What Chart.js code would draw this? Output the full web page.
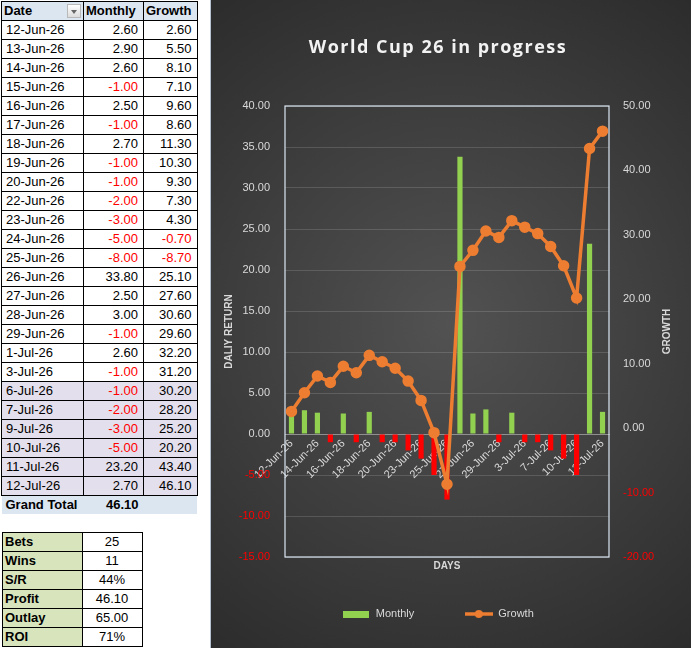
<!DOCTYPE html>
<html>
<head>
<meta charset="utf-8">
<title>World Cup 26 in progress</title>
<script src="https://cdn.jsdelivr.net/npm/chart.js@4.4.1/dist/chart.umd.min.js"></script>
<style>
  body { margin: 0; background: #fff; font-family: 'Liberation Sans', Arial, sans-serif; }
  table { position: absolute; border-collapse: collapse; table-layout: fixed; font-size: 13px; color: #000; }
  td { border: 1px solid #000; height: 18px; padding: 0 5px 0 4px; white-space: nowrap; overflow: hidden; line-height: 18px; }
  #pivot { left: 1px; top: 1px; }
  #pivot tr.head td { background: #dce6f1; font-weight: bold; padding-left: 2px; }
  #pivot tr.shaded td { background: #e4dfec; }
  #pivot tr.total td { background: #dce6f1; font-weight: bold; border: none; }
  td.num { text-align: right; }
  td.neg { color: #ff0000; }
  .drop { position: relative; display: inline-block; float: right; width: 14px; height: 14px; margin-top: 2px; margin-right: -3px;
          background: linear-gradient(#ffffff, #dcdcdc); border: 1px solid #b9b9b9; box-sizing: border-box; }
  .drop:after { content: ''; position: absolute; left: 3px; top: 5px; border-left: 3.5px solid transparent; border-right: 3.5px solid transparent; border-top: 4px solid #666; }
  #stats { left: 2px; top: 532px; }
  #stats td.lab { background: #d8e4bc; font-weight: bold; padding-left: 2px; }
  #stats td.val { text-align: center; }
  #chartBox { position: absolute; left: 211px; top: 0; width: 480px; height: 648px; }
  #chartBox:before { content: ''; position: absolute; left: -1px; top: 0; width: 1px; height: 648px; background: #b7c2d2; }
</style>
</head>
<body>
<table id="pivot">
  <colgroup><col style="width:82px"><col style="width:60px"><col style="width:53px"></colgroup>
  <tbody>
    <tr class="head"><td>Date<span class="drop"></span></td><td>Monthly</td><td>Growth</td></tr>
  </tbody>
</table>
<table id="stats">
  <colgroup><col style="width:80px"><col style="width:60px"></colgroup>
  <tbody></tbody>
</table>
<div id="chartBox"><canvas id="chart"></canvas></div>

<script>
const dates = ['12-Jun-26', '13-Jun-26', '14-Jun-26', '15-Jun-26', '16-Jun-26', '17-Jun-26', '18-Jun-26',
  '19-Jun-26', '20-Jun-26', '22-Jun-26', '23-Jun-26', '24-Jun-26', '25-Jun-26', '26-Jun-26', '27-Jun-26',
  '28-Jun-26', '29-Jun-26', '1-Jul-26', '3-Jul-26', '6-Jul-26', '7-Jul-26', '9-Jul-26', '10-Jul-26',
  '11-Jul-26', '12-Jul-26'];
const monthly = [2.6, 2.9, 2.6, -1, 2.5, -1, 2.7, -1, -1, -2, -3, -5, -8, 33.8, 2.5, 3.0, -1, 2.6, -1, -1,
  -2, -3, -5, 23.2, 2.7];
const growth = [2.6, 5.5, 8.1, 7.1, 9.6, 8.6, 11.3, 10.3, 9.3, 7.3, 4.3, -0.7, -8.7, 25.1, 27.6, 30.6, 29.6,
  32.2, 31.2, 30.2, 28.2, 25.2, 20.2, 43.4, 46.1];
const grandTotal = '46.10';
const statLabels = ['Bets', 'Wins', 'S/R', 'Profit', 'Outlay', 'ROI'];
const statValues = ['25', '11', '44%', '46.10', '65.00', '71%'];
const leftTicks = { min: -15, max: 40, step: 5 };
const rightTicks = { min: -20, max: 50, step: 10 };
const chartTitle = 'World Cup 26 in progress';
const leftTitle = 'DALIY RETURN';
const rightTitle = 'GROWTH';
const xTitle = 'DAYS';
const shadedFrom = 19;

// spreadsheet side
const pivotBody = document.querySelector('#pivot tbody');
const neg = v => (v < 0 ? ' neg' : '');
dates.forEach((d, i) => {
  const tr = document.createElement('tr');
  if (i >= shadedFrom) tr.className = 'shaded';
  tr.innerHTML = `<td>${d}</td><td class="num${neg(monthly[i])}">${monthly[i].toFixed(2)}</td>` +
    `<td class="num${neg(growth[i])}">${growth[i].toFixed(2)}</td>`;
  pivotBody.appendChild(tr);
});
const totalRow = document.createElement('tr');
totalRow.className = 'total';
totalRow.innerHTML = `<td>Grand Total</td><td class="num">${grandTotal}</td><td></td>`;
pivotBody.appendChild(totalRow);

const statsBody = document.querySelector('#stats tbody');
statLabels.forEach((l, i) => {
  const tr = document.createElement('tr');
  tr.innerHTML = `<td class="lab">${l}</td><td class="val">${statValues[i]}</td>`;
  statsBody.appendChild(tr);
});

// chart side
const GREEN = '#92d050';
const RED = '#ff0000';
const ORANGE = '#ed7d31';
const TEXT = '#d9d9d9';
Chart.defaults.font.family = "'Liberation Sans', Arial, sans-serif";

const tickColor = c => (c.tick && c.tick.value < 0 ? RED : TEXT);

function marker(w, h, paint) {
  const c = document.createElement('canvas');
  c.width = w;
  c.height = h;
  paint(c.getContext('2d'));
  return c;
}
const monthlyMark = marker(26, 7, g => { g.fillStyle = GREEN; g.fillRect(0, 0, 26, 7); });
const growthMark = marker(28, 10, g => {
  g.strokeStyle = ORANGE; g.lineWidth = 3.5;
  g.beginPath(); g.moveTo(0, 5); g.lineTo(28, 5); g.stroke();
  g.fillStyle = ORANGE; g.beginPath(); g.arc(14, 5, 4, 0, Math.PI * 2); g.fill();
});

const backdrop = {
  id: 'backdrop',
  beforeDraw(chart) {
    const { ctx, width, height } = chart;
    const g = ctx.createRadialGradient(width * 0.5, height * 0.5, 0, width * 0.5, height * 0.5, height * 0.72);
    g.addColorStop(0, '#525252');
    g.addColorStop(1, '#262626');
    ctx.save();
    ctx.fillStyle = g;
    ctx.fillRect(0, 0, width, height);
    ctx.restore();

    // Excel title has a little letter spacing
    const block = chart.titleBlock;
    if (block && !block._spaced) {
      const draw = block.draw.bind(block);
      block.draw = function() {
        chart.ctx.save();
        chart.ctx.letterSpacing = '1.5px';
        draw();
        chart.ctx.restore();
      };
      block._spaced = true;
    }
  },
  beforeDatasetsDraw(chart) {
    const { ctx, chartArea: a } = chart;
    ctx.save();
    ctx.strokeStyle = '#dde6f2';
    ctx.lineWidth = 1.2;
    ctx.strokeRect(a.left, a.top, a.right - a.left, a.bottom - a.top);
    ctx.restore();
  },
  afterDraw(chart) {
    // right axis title reads bottom-to-top like the left one
    const { ctx, chartArea: a } = chart;
    ctx.save();
    ctx.translate(456, (a.top + a.bottom) / 2);
    ctx.rotate(-Math.PI / 2);
    ctx.font = "bold 10px 'Liberation Sans', Arial, sans-serif";
    ctx.fillStyle = TEXT;
    ctx.textAlign = 'center';
    ctx.textBaseline = 'middle';
    ctx.fillText(rightTitle, 0, 0);
    ctx.restore();
  }
};

new Chart(document.getElementById('chart'), {
  type: 'bar',
  data: {
    labels: dates,
    datasets: [
      {
        label: 'Monthly',
        data: monthly,
        backgroundColor: monthly.map(v => (v < 0 ? RED : GREEN)),
        barPercentage: 0.4,
        categoryPercentage: 1,
        xAxisID: 'x',
        yAxisID: 'y',
        order: 1
      },
      {
        label: 'Growth',
        type: 'line',
        data: growth,
        borderColor: ORANGE,
        backgroundColor: ORANGE,
        borderWidth: 3.5,
        pointRadius: 4,
        pointHoverRadius: 4,
        tension: 0,
        xAxisID: 'x',
        yAxisID: 'y1',
        order: 0
      }
    ]
  },
  options: {
    responsive: true,
    maintainAspectRatio: false,
    animation: false,
    layout: { padding: { top: 0, left: 0, right: 26, bottom: 18.5 } },
    plugins: {
      title: {
        display: true,
        text: chartTitle,
        color: '#f2f2f2',
        font: { family: "'Open Sans', sans-serif", size: 18, weight: 'bold' },
        padding: { top: 37.2, bottom: 47.2 }
      },
      legend: {
        position: 'bottom',
        labels: {
          usePointStyle: true,
          pointStyleWidth: 28,
          padding: 20,
          color: TEXT,
          font: { size: 11 },
          generateLabels: () => [
            { text: 'Monthly          ', pointStyle: monthlyMark, datasetIndex: 0, fontColor: TEXT, lineWidth: 0 },
            { text: 'Growth', pointStyle: growthMark, datasetIndex: 1, fontColor: TEXT, lineWidth: 0 }
          ]
        }
      },
      tooltip: { enabled: false }
    },
    scales: {
      x: {
        position: { y: 0 },
        offset: true,
        grid: { display: false, drawTicks: false },
        border: { display: true, color: '#8f8f8f', width: 1 },
        ticks: {
          autoSkip: false,
          minRotation: 45,
          maxRotation: 45,
          padding: 3,
          color: TEXT,
          font: { size: 11 },
          callback: (v, i) => (i % 2 === 0 ? dates[i] : '')
        }
      },
      x2: {
        type: 'category',
        position: 'bottom',
        grid: { display: false, drawTicks: false },
        border: { display: false },
        ticks: { display: false },
        title: { display: true, text: xTitle, color: TEXT, font: { size: 10, weight: 'bold' }, padding: { top: 0, bottom: 16.5 } },
        afterFit: s => { s.height = 31.5; }
      },
      y: {
        position: 'left',
        min: leftTicks.min,
        max: leftTicks.max,
        grid: { color: 'rgba(255,255,255,0.14)', drawTicks: false },
        border: { display: false },
        ticks: { stepSize: leftTicks.step, padding: 15, color: tickColor, font: { size: 11 }, callback: v => v.toFixed(2) },
        title: { display: true, text: leftTitle, color: TEXT, font: { size: 10, weight: 'bold' }, padding: { top: 12, bottom: 0 } },
        afterFit: s => { s.width = 74; }
      },
      y1: {
        position: 'right',
        min: rightTicks.min,
        max: rightTicks.max,
        grid: { display: false, drawTicks: false },
        border: { display: false },
        ticks: { stepSize: rightTicks.step, padding: 14, color: tickColor, font: { size: 11 }, callback: v => v.toFixed(2) },
        afterFit: s => { s.width = 56; }
      }
    }
  },
  plugins: [backdrop]
});
</script>
</body>
</html>
